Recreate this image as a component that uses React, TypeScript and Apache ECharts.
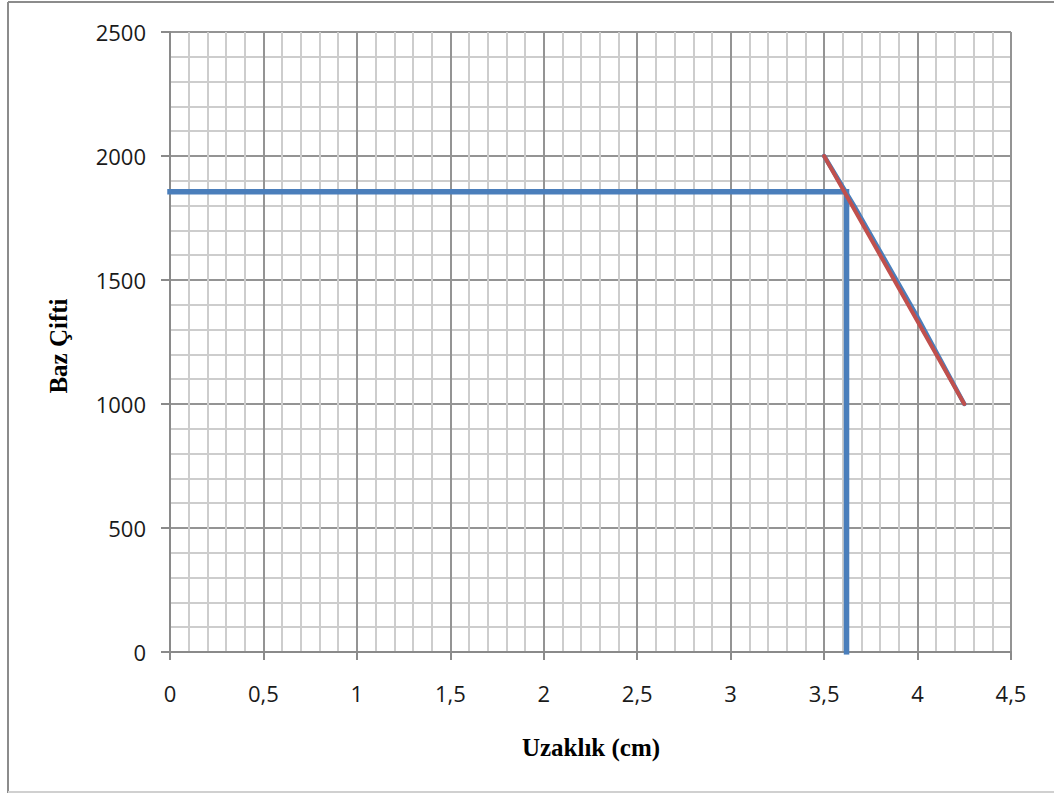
import React, { useEffect, useRef } from "react";
import * as echarts from "echarts";

const xTitle = "Uzaklık (cm)";
const yTitle = "Baz Çifti";
// drop lines reading the value off the curve
const dropLine: number[][] = [[0, 1856], [3.62, 1856], [3.62, 0]];
// measured points (blue)
const measured: number[][] = [[3.5, 2000], [3.66, 1800], [4.0, 1350], [4.25, 1000]];
// linear fit (red)
const trend: number[][] = [[3.5, 2000], [4.25, 1000]];

export default function App() {
  const ref = useRef<HTMLDivElement>(null);
  useEffect(() => {
    if (!ref.current) return;
    const chart = echarts.init(ref.current, null, { renderer: "svg" });
    const labelFont = { fontFamily: "Open Sans", fontSize: 22, color: "#1a1a1a" };
    chart.setOption({
      animation: false,
      backgroundColor: "#ffffff",
      grid: { left: 170, right: 43, top: 32, bottom: 141, containLabel: false },
      xAxis: {
        type: "value",
        min: 0,
        max: 4.5,
        interval: 0.5,
        axisLine: { show: true, lineStyle: { color: "#8a8a8a", width: 2 } },
        axisTick: { show: true, inside: false, length: 8, lineStyle: { color: "#8a8a8a", width: 2 } },
        axisLabel: { ...labelFont, margin: 30, formatter: (v: number) => String(v).replace(".", ",") },
        splitLine: { show: true, lineStyle: { color: "#949494", width: 2 } },
        minorTick: { show: false, splitNumber: 5 },
        minorSplitLine: { show: true, lineStyle: { color: "#cdcdcd", width: 2 } },
      },
      yAxis: {
        type: "value",
        min: 0,
        max: 2500,
        interval: 500,
        axisLine: { show: true, lineStyle: { color: "#8a8a8a", width: 2 } },
        axisTick: { show: true, inside: false, length: 9, lineStyle: { color: "#8a8a8a", width: 2 } },
        axisLabel: { ...labelFont, margin: 24, formatter: (v: number) => String(v) },
        splitLine: { show: true, lineStyle: { color: "#949494", width: 2 } },
        minorTick: { show: false, splitNumber: 5 },
        minorSplitLine: { show: true, lineStyle: { color: "#cdcdcd", width: 2 } },
      },
      graphic: [
        { type: "line", shape: { x1: 8, y1: 2, x2: 1054, y2: 2 }, style: { stroke: "#8c8c8c", lineWidth: 2 } },
        { type: "line", shape: { x1: 8, y1: 2, x2: 8, y2: 793 }, style: { stroke: "#8c8c8c", lineWidth: 2 } },
        { type: "line", shape: { x1: 8, y1: 792, x2: 1054, y2: 792 }, style: { stroke: "#d0d0d0", lineWidth: 2 } },
        {
          type: "text",
          x: 591,
          y: 747,
          style: { text: xTitle, font: "bold 25px 'Liberation Serif'", fill: "#000", align: "center", verticalAlign: "middle" },
        },
        {
          type: "text",
          x: 58,
          y: 346,
          rotation: Math.PI / 2,
          style: { text: yTitle, font: "bold 25px 'Liberation Serif'", fill: "#000", align: "center", verticalAlign: "middle" },
        },
      ],
      series: [
        {
          type: "line",
          data: dropLine,
          showSymbol: false,
          symbol: "none",
          lineStyle: { color: "#4a7ebb", width: 5.5, cap: "square", join: "miter" },
          z: 3,
        },
        {
          type: "line",
          data: measured,
          showSymbol: false,
          symbol: "none",
          lineStyle: { color: "#4a7ebb", width: 4.5, cap: "round" },
          z: 4,
        },
        {
          type: "line",
          data: trend,
          showSymbol: false,
          symbol: "none",
          lineStyle: { color: "#c0504d", width: 4, cap: "round" },
          z: 5,
        },
      ],
    });
    return () => chart.dispose();
  }, []);
  return (
    <div
      ref={ref}
      style={{ position: "fixed", left: 0, top: 0, width: 1054, height: 793, background: "#fff" }}
    />
  );
}
